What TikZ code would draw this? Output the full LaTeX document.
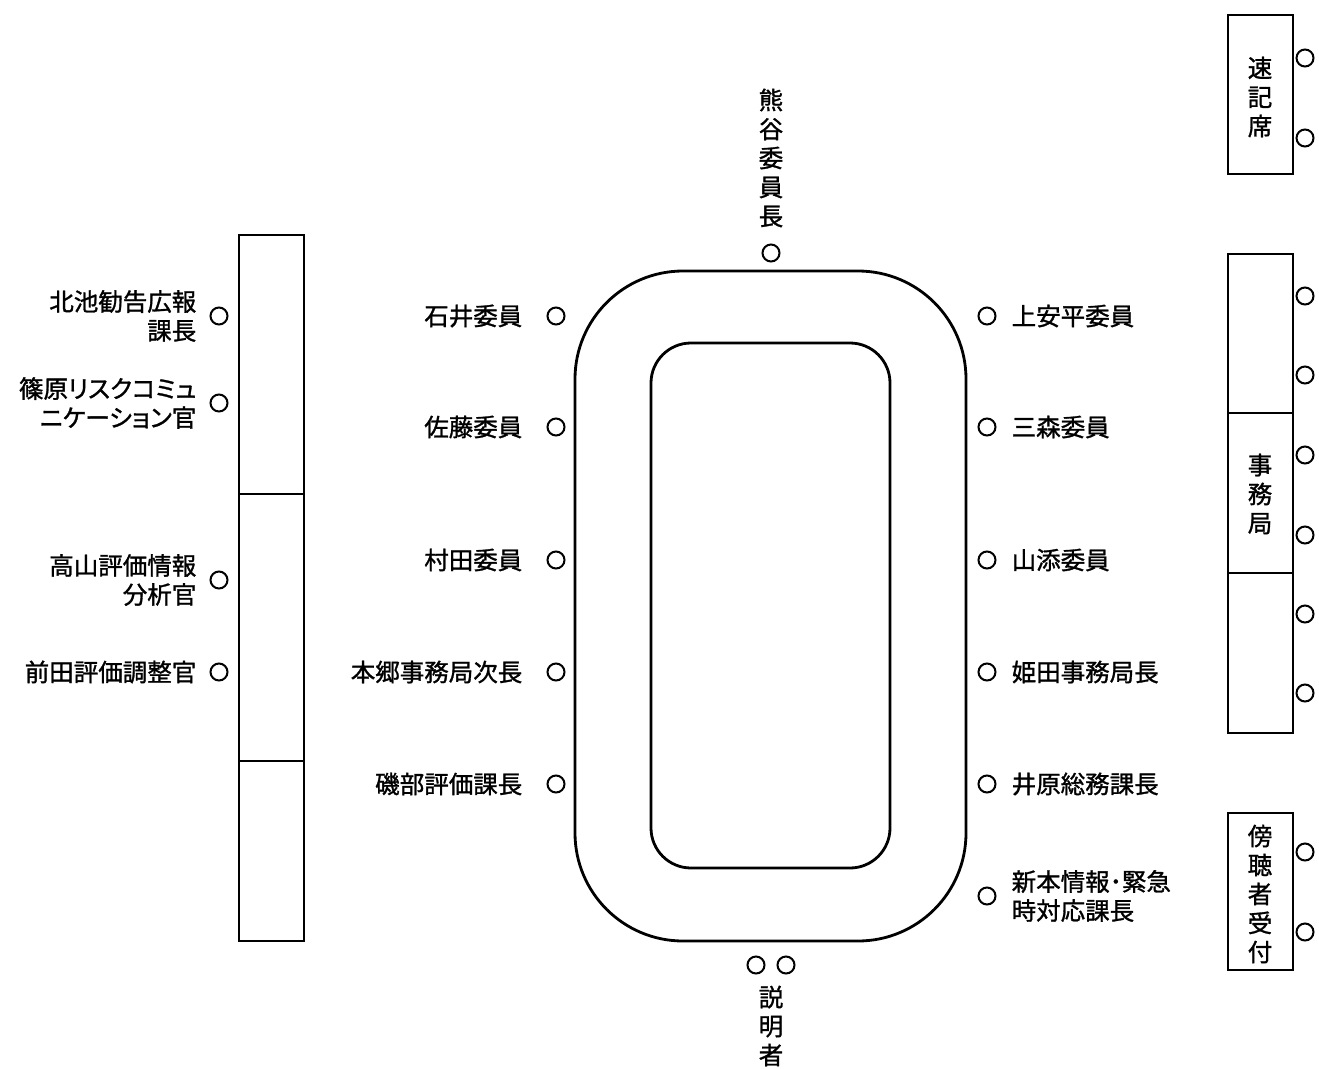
\documentclass[tikz,border=0pt]{standalone}
\usepackage{fontspec}
\usepackage{tikz}
\usetikzlibrary{positioning}
\newfontfamily\jpfont[FakeBold=1.2, RawFeature=+palt]{Noto Sans CJK JP}
\definecolor{ink}{HTML}{000000}

\begin{document}
\begin{tikzpicture}[x=1pt, y=-1pt,
            seat/.style={circle, draw=ink, line width=2pt, minimum size=17pt, inner sep=0pt},
            person/.style={font=\jpfont\fontsize{24.5}{29}\selectfont, inner sep=0pt, text=ink},
            vtext/.style={person, align=center},
            desk/.style={draw=ink, line width=2.8pt}]
            \useasboundingbox (0,0) rectangle (1319,1068);
            % main table
            \draw[desk, rounded corners=108pt] (575,271) rectangle (966,941);
            \draw[desk, rounded corners=40pt] (651,343) rectangle (890,868);
            % side desks, left
            \draw[desk] (239,235) rectangle (304,941);
            \draw[desk] (239,494) -- (304,494);
            \draw[desk] (239,761) -- (304,761);
            % side desks, right
            \draw[desk] (1228,15) rectangle (1293,174);
            \draw[desk] (1228,254) rectangle (1293,733);
            \draw[desk] (1228,413) -- (1293,413);
            \draw[desk] (1228,573) -- (1293,573);
            \draw[desk] (1228,813) rectangle (1293,970);
            \node[vtext] (sokki) at (1260,97) {速\\記\\席};
            \node[vtext] (jimu) at (1260,494) {事\\務\\局};
            \node[vtext] (bocho) at (1260,894) {傍\\聴\\者\\受\\付};
            \foreach \y [count=\i] in {58,138,296,375,455,535,614,693,852,932}
                \node[seat] (r\i) at (1305,\y) {};
            % chair and presenters
            \node[seat] (chair) at (771,253) {};
            \node[vtext] (chairn) at (771,158) {熊\\谷\\委\\員\\長};
            \node[seat] (ex1) at (756,965) {};
            \node[seat] (ex2) at (786,965) {};
            \node[vtext] (exn) at (771,1026) {説\\明\\者};
            % committee, left side
            \foreach \y/\t [count=\i] in {316/石井委員, 427/佐藤委員, 560/村田委員, 672/本郷事務局次長, 784/磯部評価課長} {
                \node[seat] (L\i) at (556,\y) {};
                \node[person, left=24pt of L\i] (Ln\i) {\t};
            }
            % committee, right side
            \foreach \y/\t [count=\i] in {316/上安平委員, 427/三森委員, 560/山添委員, 672/姫田事務局長, 784/井原総務課長} {
                \node[seat] (R\i) at (987,\y) {};
                \node[person, right=15pt of R\i] (Rn\i) {\t};
            }
            \node[seat] (R6) at (987,896) {};
            \node[person, align=left, right=15pt of R6] (Rn6) {新本情報･緊急\\時対応課長};
            % far left seats
            \node[seat] (F1) at (219,316) {};
            \node[person, align=right, left=13pt of F1] (Fn1) {北池勧告広報\\課長};
            \node[seat] (F2) at (219,403) {};
            \node[person, align=right, left=13pt of F2] (Fn2) {篠原リスクコミュ\\ニケーション官};
            \node[seat] (F3) at (219,580) {};
            \node[person, align=right, left=13pt of F3] (Fn3) {高山評価情報\\分析官};
            \node[seat] (F4) at (219,672) {};
            \node[person, left=13pt of F4] (Fn4) {前田評価調整官};
        \end{tikzpicture}
\end{document}
